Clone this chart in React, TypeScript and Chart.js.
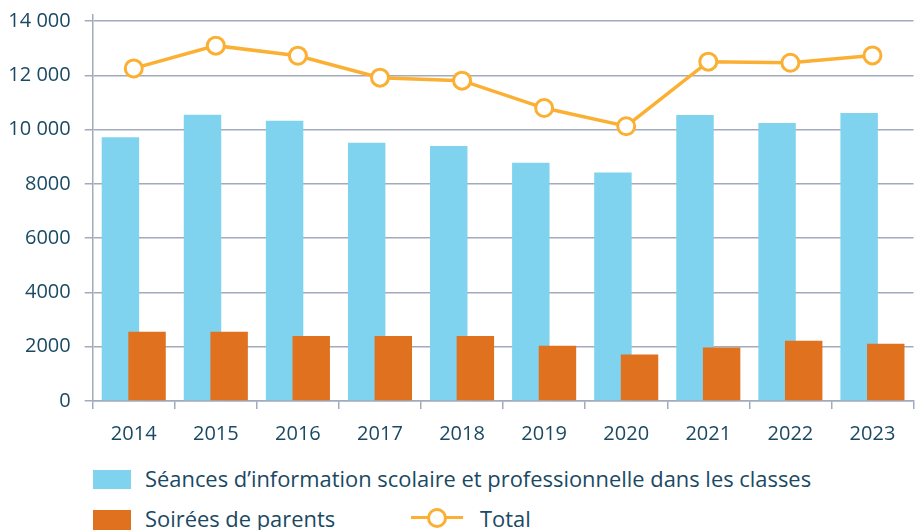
import React, { useEffect, useRef } from "react";
import { Chart, registerables } from "chart.js";

Chart.register(...registerables);

const years = ["2014", "2015", "2016", "2017", "2018", "2019", "2020", "2021", "2022", "2023"];
const seances = [9720, 10550, 10330, 9520, 9400, 8780, 8420, 10540, 10250, 10620];
const soirees = [2550, 2550, 2400, 2400, 2400, 2040, 1710, 1970, 2220, 2110];
const totals = [12260, 13100, 12730, 11920, 11810, 10800, 10130, 12510, 12470, 12740];
const yTicks = [0, 2000, 4000, 6000, 8000, 10000, 12000, 14000];
const yTickLabels = ["0", "2000", "4000", "6000", "8000", "10\u00a0000", "12\u00a0000", "14\u00a0000"];
const seriesNames = [
  "Séances d’information scolaire et professionnelle dans les classes",
  "Soirées de parents",
  "Total",
];

const BLUE = "#7fd3ee";
const ORANGE = "#e0711f";
const LINE = "#fbb034";
const GRID = "#a2aabb";
const TEXT = "#1a4963";
const FONT = "'Open Sans', Lato, sans-serif";

const CAT_PCT = 0.6486;
const BAR_PCT = 1.407;

// draw the left (blue) bars underneath the right (orange) bars
const underlayPlugin = {
  id: "underlay",
  beforeDatasetsDraw(chart: any) {
    const meta = chart.getDatasetMeta(1);
    if (meta && !meta.hidden) meta.controller.draw();
  },
  beforeDatasetDraw(_chart: any, args: any) {
    if (args.index === 1) return false;
    return true;
  },
};

export default function App() {
  const ref = useRef<HTMLCanvasElement | null>(null);

  useEffect(() => {
    if (!ref.current) return;
    const chart = new Chart(ref.current, {
      type: "bar",
      data: {
        labels: years,
        datasets: [
          {
            type: "line",
            label: seriesNames[2],
            data: totals,
            order: 0,
            borderColor: LINE,
            borderWidth: 3.5,
            pointRadius: 8.5,
            pointBorderWidth: 3,
            pointBackgroundColor: "#ffffff",
            pointBorderColor: LINE,
            tension: 0,
          } as any,
          {
            label: seriesNames[0],
            data: seances,
            order: 1,
            backgroundColor: BLUE,
            categoryPercentage: CAT_PCT,
            barPercentage: BAR_PCT,
          },
          {
            label: seriesNames[1],
            data: soirees,
            order: 2,
            backgroundColor: ORANGE,
            categoryPercentage: CAT_PCT,
            barPercentage: BAR_PCT,
          },
        ],
      },
      plugins: [underlayPlugin],
      options: {
        animation: false,
        responsive: false,
        maintainAspectRatio: false,
        layout: { padding: { top: 15, right: 0, bottom: 0, left: 0 } },
        plugins: { legend: { display: false }, tooltip: { enabled: false } },
        scales: {
          x: {
            type: "category",
            offset: true,
            grid: { drawOnChartArea: false, offset: true, tickLength: 8, color: GRID, lineWidth: 1.5 },
            border: { color: GRID, width: 1.5 },
            ticks: { color: TEXT, font: { family: FONT, size: 20 }, padding: 13, maxRotation: 0 },
            afterFit: (s: any) => {
              s.height = 49;
            },
          },
          y: {
            min: 0,
            max: 14230,
            grid: { color: GRID, lineWidth: 1.5, tickLength: 8 },
            border: { color: GRID, width: 1.5 },
            ticks: {
              color: TEXT,
              font: { family: FONT, size: 20 },
              padding: 14,
              callback: (v: any) => {
                const i = yTicks.indexOf(Number(v));
                return i >= 0 ? yTickLabels[i] : "";
              },
            },
            afterBuildTicks: (s: any) => {
              s.ticks = yTicks.map((v) => ({ value: v }));
            },
            afterFit: (s: any) => {
              s.width = 92.7;
              s.paddingTop = 0;
              s.paddingBottom = 0;
            },
          },
        },
      } as any,
    });
    return () => chart.destroy();
  }, []);

  const textStyle: React.CSSProperties = {
    position: "absolute",
    fontFamily: FONT,
    fontSize: 21.9,
    color: TEXT,
    lineHeight: "24px",
    whiteSpace: "nowrap",
  };

  return (
    <div
      style={{
        position: "fixed",
        left: 0,
        top: 0,
        width: 918,
        height: 530,
        overflow: "hidden",
        background: "#ffffff",
      }}
    >
      <canvas
        ref={ref}
        width={925}
        height={450}
        style={{ position: "absolute", left: 0, top: 0, width: 925, height: 450, display: "block" }}
      />
      <div style={{ position: "absolute", left: 93, top: 470, width: 38, height: 19, background: BLUE }} />
      <div style={{ ...textStyle, left: 145, top: 467 }}>{seriesNames[0]}</div>
      <div style={{ position: "absolute", left: 93, top: 510, width: 38, height: 20, background: ORANGE }} />
      <div style={{ ...textStyle, left: 145, top: 507 }}>{seriesNames[1]}</div>
      <div style={{ position: "absolute", left: 411, top: 515.5, width: 52, height: 3.5, background: LINE }} />
      <div
        style={{
          position: "absolute",
          left: 427,
          top: 508,
          width: 14,
          height: 14,
          borderRadius: "50%",
          border: `3px solid ${LINE}`,
          background: "#ffffff",
        }}
      />
      <div style={{ ...textStyle, left: 480, top: 507 }}>{seriesNames[2]}</div>
    </div>
  );
}
